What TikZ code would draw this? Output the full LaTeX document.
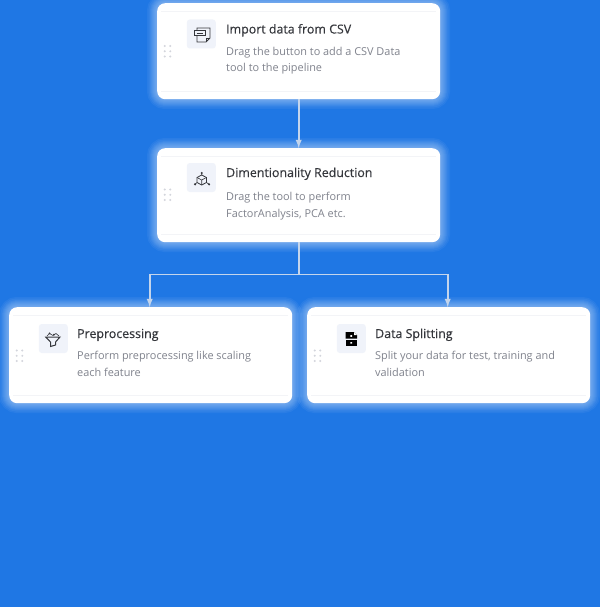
\documentclass[tikz,border=0pt]{standalone}
\usepackage{fontspec}
\setmainfont{Open Sans}
\usetikzlibrary{arrows, positioning}

\definecolor{bgblue}{HTML}{1F77E4}
\definecolor{linkgray}{HTML}{C4D5EC}
\definecolor{tilegray}{HTML}{F0F3FA}
\definecolor{titlegray}{HTML}{35373C}
\definecolor{descgray}{HTML}{80838D}
\definecolor{ruler}{HTML}{F3F4F7}
\definecolor{dotgray}{HTML}{D3D5DC}

\tikzset{
  cardbox/.style = {fill = white, rounded corners = 8pt, minimum width = 283pt, inner sep = 0pt, anchor = north west},
  tilebox/.style = {fill = tilegray, rounded corners = 3pt, minimum width = 29pt, minimum height = 29pt, inner sep = 0pt},
  cardtitle/.style = {anchor = base west, inner sep = 0pt, text = titlegray, font = \fontsize{12.4}{14}\selectfont\addfontfeature{FakeBold = 0.25}},
  carddesc/.style = {anchor = base west, inner sep = 0pt, text = descgray, font = \fontsize{10.9}{14}\selectfont},
  link/.style = {color = linkgray, line width = 1.8pt},
  icon/.style = {color = titlegray, line width = 0.8pt}
}

% left, top, height, name, title, two lines of text, shift of the upper part, text inset
\newcommand{\flowcard}[9]{
  \foreach \w in {20,17,14,12,10,8,6,4,2}
    \draw[white, opacity = 0.05, line width = \w pt, rounded corners = 8pt] (#1,#2) rectangle ++(283,-#3);
  \node[cardbox, minimum height = #3 pt] (#4) at (#1,#2) {};
  \draw[ruler, line width = 0.6pt] (#1+4,#2-8) -- ++(275,0);
  \draw[ruler, line width = 0.6pt] (#1+4,#2-#3+8) -- ++(275,0);
  \node[tilebox] (#4tile) at (#1+44.3,#2-31.5-#8) {};
  \node[cardtitle] (#4title) at (#1+#9,#2-31-#8) {#5};
  \node[carddesc] (#4one) at (#1+#9,#2-52.8) {#6};
  \node[carddesc] (#4two) at (#1+#9,#2-69) {#7};
  \foreach \dx in {7.7,13.3}
    \foreach \dy in {43.5,48.8,54}
      \fill[dotgray] (#1+\dx,#2-\dy-#8) circle (1.1);
}

\begin{document}
\begin{tikzpicture}[x = 1pt, y = 1pt]
\useasboundingbox (0,0) rectangle (600,-607);
\fill[bgblue] (0,0) rectangle (600,-607);

\flowcard{157}{-3}{96}{csv}{Import data from CSV}{Drag the button to add a CSV Data}{tool to the pipeline}{-0.5}{69}
\flowcard{157}{-148}{94}{dim}{Dimentionality Reduction}{Drag the tool to perform}{FactorAnalysis, PCA etc.}{-2}{69}
\flowcard{9}{-307}{96}{pre}{Preprocessing}{Perform preprocessing like scaling}{each feature}{0}{68}
\flowcard{307}{-307}{96}{spl}{Data Splitting}{Split your data for test, training and}{validation}{0}{68}

% connectors
\draw[link, -latex] (csv.south) -- (dim.north);
\coordinate[below = 32pt of dim.south] (fork);
\draw[link, -latex] (dim.south) -- (fork) -| ([xshift = -1pt]pre.north);
\draw[link, -latex] (fork) -| ([xshift = -1pt]spl.north);

% csv icon
\draw[icon] (197,-28) -- (210,-28) -- (210,-38) -- (206,-42) -- (197,-42) -- cycle;
\draw[icon, fill = tilegray] (194.5,-30) rectangle (205,-35.5);
\draw[icon, line width = 0.5pt] (196.5,-32.8) -- (203,-32.8);
\draw[icon, line width = 0.5pt] (206,-42) -- (206,-38) -- (210,-38);

% dimension icon
\draw[icon] (201.7,-175) -- (206.5,-177.5) -- (206.5,-182.5) -- (201.7,-185) -- (197,-182.5) -- (197,-177.5) -- cycle;
\draw[icon, line width = 0.6pt] (197,-177.5) -- (201.7,-180) -- (206.5,-177.5) (201.7,-180) -- (201.7,-185);
\draw[icon, line width = 0.6pt] (201.7,-173) -- (201.7,-175) (197,-182.5) -- (195,-184.3) (206.5,-182.5) -- (209,-184.3);
\fill[titlegray] (201.7,-173) circle (1.2) (195,-184.3) circle (1.2) (209,-184.3) circle (1.2);

% funnel icon
\draw[icon, line width = 1pt] (45.7,-337) -- (60,-337) -- (55.5,-342) -- (55.5,-345) -- (50.5,-346.5) -- (50.5,-342) -- cycle;
\draw[icon, line width = 0.6pt] (47,-336) -- (49.5,-333.5) -- (53,-335.5) -- (56,-333.5) -- (59,-336);
\fill[titlegray] (49.5,-333.3) circle (1) (54,-334.5) circle (1);

% file icon
\fill[black] (345.5,-332) -- (354,-332) -- (357,-335) -- (357,-338.5) -- (345.5,-338.5) -- cycle;
\fill[black] (345.5,-339.8) rectangle (357,-346);
\fill[white] (354,-332) -- (357,-335) -- (354,-335) -- cycle;
\fill[white] (350.3,-335.2) rectangle (352,-336.9) (350.3,-342) rectangle (352,-343.7);
\end{tikzpicture}
\end{document}
